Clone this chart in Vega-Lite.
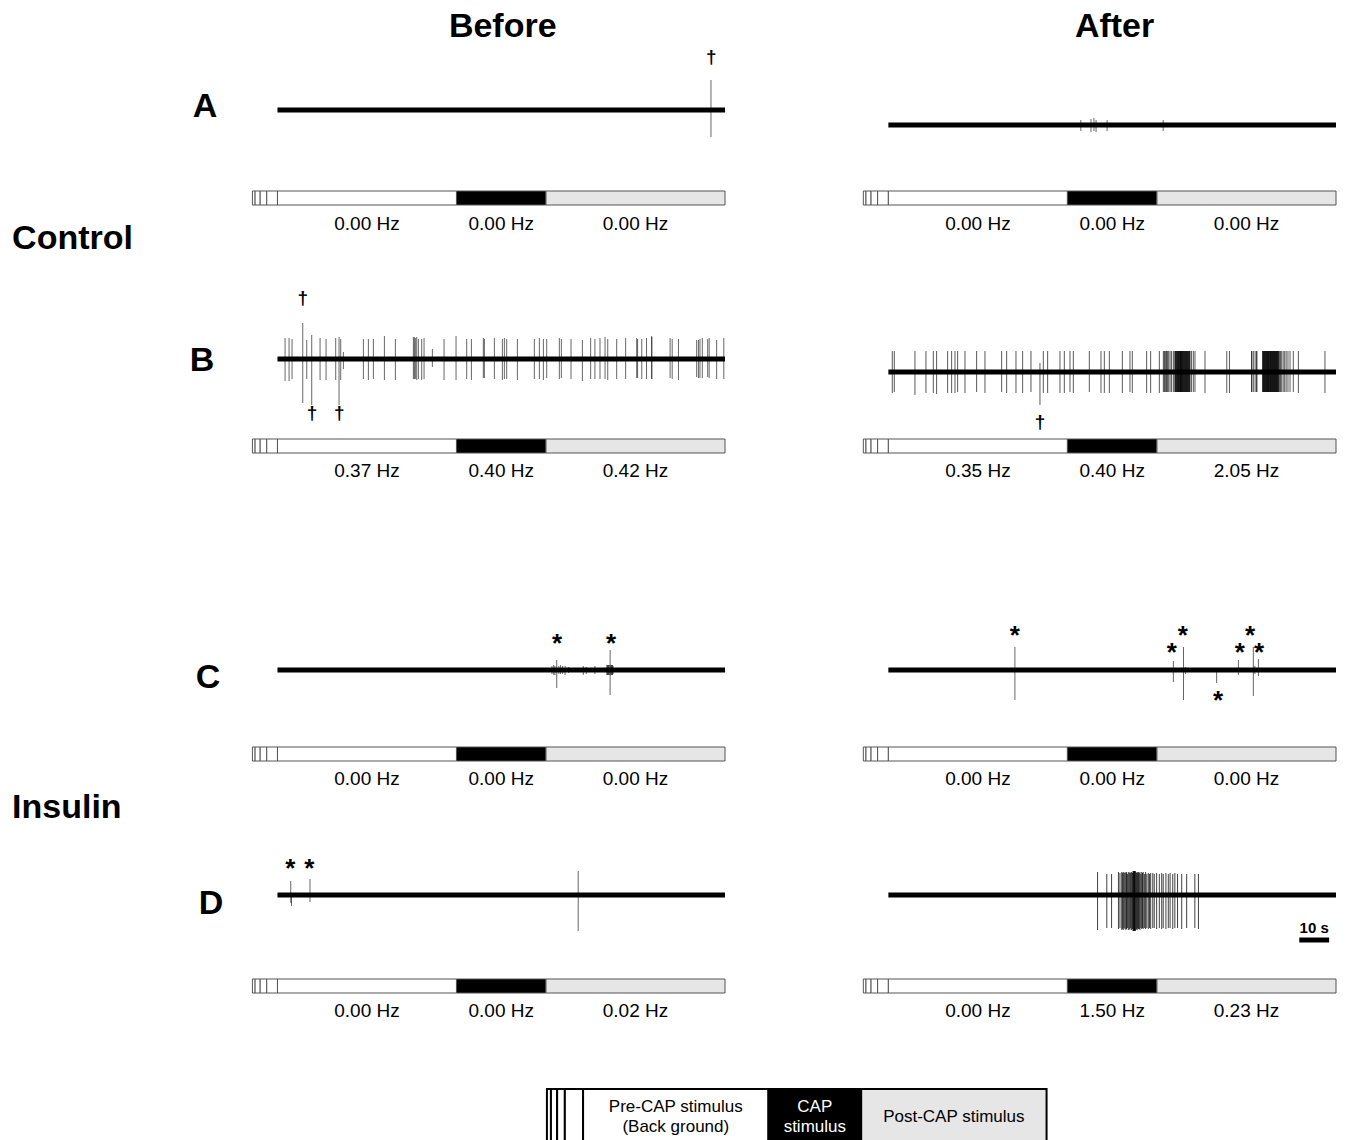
{
"$schema":"https://vega.github.io/schema/vega-lite/v6.json",
"padding":0,
"autosize":{"type":"pad"},
"background":"white",
"spacing":0,
"config":{"view":{"stroke":null},"font":"Liberation Sans","text":{"font":"Liberation Sans"}},
"datasets":{
"stim":[{"phase":"lead","t0":-8.4,"t1":-7.5},{"phase":"lead","t0":-7.5,"t1":-5.8},{"phase":"lead","t0":-5.8,"t1":-3.6},{"phase":"lead","t0":-3.6,"t1":0},{"phase":"pre","t0":0,"t1":60},{"phase":"cap","t0":60,"t1":90},{"phase":"post","t0":90,"t1":150}],
"legendStim":[{"phase":"lead","t0":-11.7,"t1":-10.4},{"phase":"lead","t0":-10.4,"t1":-8.4},{"phase":"lead","t0":-8.4,"t1":-5.9},{"phase":"lead","t0":-5.9,"t1":0},{"phase":"pre","t0":0,"t1":60},{"phase":"cap","t0":60,"t1":90},{"phase":"post","t0":90,"t1":150}],
"legendText":[{"phase":"pre","mid":30,"label":"Pre-CAP stimulus\n(Back ground)"},{"phase":"cap","mid":75,"label":"CAP\nstimulus"},{"phase":"post","mid":120,"label":"Post-CAP stimulus"}],
"rates":[
{"p":"A-Before","mid":30,"rate":"0.00 Hz"},{"p":"A-Before","mid":75,"rate":"0.00 Hz"},{"p":"A-Before","mid":120,"rate":"0.00 Hz"},
{"p":"A-After","mid":30,"rate":"0.00 Hz"},{"p":"A-After","mid":75,"rate":"0.00 Hz"},{"p":"A-After","mid":120,"rate":"0.00 Hz"},
{"p":"B-Before","mid":30,"rate":"0.37 Hz"},{"p":"B-Before","mid":75,"rate":"0.40 Hz"},{"p":"B-Before","mid":120,"rate":"0.42 Hz"},
{"p":"B-After","mid":30,"rate":"0.35 Hz"},{"p":"B-After","mid":75,"rate":"0.40 Hz"},{"p":"B-After","mid":120,"rate":"2.05 Hz"},
{"p":"C-Before","mid":30,"rate":"0.00 Hz"},{"p":"C-Before","mid":75,"rate":"0.00 Hz"},{"p":"C-Before","mid":120,"rate":"0.00 Hz"},
{"p":"C-After","mid":30,"rate":"0.00 Hz"},{"p":"C-After","mid":75,"rate":"0.00 Hz"},{"p":"C-After","mid":120,"rate":"0.00 Hz"},
{"p":"D-Before","mid":30,"rate":"0.00 Hz"},{"p":"D-Before","mid":75,"rate":"0.00 Hz"},{"p":"D-Before","mid":120,"rate":"0.02 Hz"},
{"p":"D-After","mid":30,"rate":"0.00 Hz"},{"p":"D-After","mid":75,"rate":"1.50 Hz"},{"p":"D-After","mid":120,"rate":"0.23 Hz"}],
"traces":[{"p":"A-Before","t0":0,"t1":150,"base":0},{"p":"A-After","t0":0,"t1":150,"base":-15},{"p":"B-Before","t0":0,"t1":150,"base":0},{"p":"B-After","t0":0,"t1":150,"base":-13},{"p":"C-Before","t0":0,"t1":150,"base":0},{"p":"C-After","t0":0,"t1":150,"base":0},{"p":"D-Before","t0":0,"t1":150,"base":0},{"p":"D-After","t0":0,"t1":150,"base":0}],
"spikes":[
{"p":"A-Before","t":145.3,"hi":30,"lo":-27},
{"p":"A-After","t":64.5,"hi":-10,"lo":-21},{"p":"A-After","t":67.9,"hi":-9,"lo":-22},{"p":"A-After","t":68.9,"hi":-8,"lo":-21},{"p":"A-After","t":69.6,"hi":-10,"lo":-22},{"p":"A-After","t":73.3,"hi":-10,"lo":-21},{"p":"A-After","t":92.1,"hi":-10,"lo":-21},
{"p":"B-Before","t":2.55,"hi":21,"lo":-22},{"p":"B-Before","t":3.89,"hi":21,"lo":-22},{"p":"B-Before","t":4.89,"hi":20,"lo":-20},{"p":"B-Before","t":8.47,"hi":36,"lo":-44},{"p":"B-Before","t":9.81,"hi":19,"lo":-20},{"p":"B-Before","t":11.48,"hi":24,"lo":-46},{"p":"B-Before","t":14.28,"hi":21,"lo":-21},{"p":"B-Before","t":16.29,"hi":20,"lo":-21},{"p":"B-Before","t":19.52,"hi":21,"lo":-21},{"p":"B-Before","t":20.64,"hi":22,"lo":-46},{"p":"B-Before","t":21.2,"hi":20,"lo":-21},{"p":"B-Before","t":22.1,"hi":7,"lo":-10},{"p":"B-Before","t":28.8,"hi":20,"lo":-20},{"p":"B-Before","t":30.47,"hi":20,"lo":-21},{"p":"B-Before","t":32.15,"hi":20,"lo":-20},{"p":"B-Before","t":35.84,"hi":23,"lo":-21},{"p":"B-Before","t":39.52,"hi":20,"lo":-21},{"p":"B-Before","t":45.55,"hi":22,"lo":-20},{"p":"B-Before","t":45.89,"hi":22,"lo":-20},{"p":"B-Before","t":46.22,"hi":21,"lo":-20},{"p":"B-Before","t":46.67,"hi":22,"lo":-21},{"p":"B-Before","t":47.23,"hi":20,"lo":-20},{"p":"B-Before","t":48.34,"hi":20,"lo":-21},{"p":"B-Before","t":49.13,"hi":21,"lo":-20},{"p":"B-Before","t":51.92,"hi":10,"lo":-8},{"p":"B-Before","t":55.83,"hi":20,"lo":-21},{"p":"B-Before","t":59.85,"hi":23,"lo":-21},{"p":"B-Before","t":63.43,"hi":20,"lo":-20},{"p":"B-Before","t":65.0,"hi":20,"lo":-21},{"p":"B-Before","t":69.0,"hi":21,"lo":-19},{"p":"B-Before","t":69.35,"hi":20,"lo":-19},{"p":"B-Before","t":72.7,"hi":21,"lo":-20},{"p":"B-Before","t":75.38,"hi":20,"lo":-21},{"p":"B-Before","t":76.05,"hi":21,"lo":-20},{"p":"B-Before","t":76.83,"hi":20,"lo":-20},{"p":"B-Before","t":80.41,"hi":20,"lo":-21},{"p":"B-Before","t":86.1,"hi":20,"lo":-20},{"p":"B-Before","t":87.78,"hi":21,"lo":-20},{"p":"B-Before","t":89.12,"hi":20,"lo":-21},{"p":"B-Before","t":90.24,"hi":20,"lo":-19},{"p":"B-Before","t":94.48,"hi":21,"lo":-20},{"p":"B-Before","t":95.15,"hi":20,"lo":-19},{"p":"B-Before","t":98.39,"hi":20,"lo":-20},{"p":"B-Before","t":102.2,"hi":19,"lo":-22},{"p":"B-Before","t":104.97,"hi":21,"lo":-20},{"p":"B-Before","t":106.4,"hi":20,"lo":-20},{"p":"B-Before","t":108.1,"hi":21,"lo":-20},{"p":"B-Before","t":109.8,"hi":22,"lo":-20},{"p":"B-Before","t":110.7,"hi":20,"lo":-21},{"p":"B-Before","t":113.7,"hi":20,"lo":-20},{"p":"B-Before","t":116.7,"hi":21,"lo":-20},{"p":"B-Before","t":120.4,"hi":21,"lo":-19},{"p":"B-Before","t":120.7,"hi":20,"lo":-19},{"p":"B-Before","t":122.1,"hi":20,"lo":-20},{"p":"B-Before","t":123.7,"hi":21,"lo":-20},{"p":"B-Before","t":125.4,"hi":23,"lo":-20},{"p":"B-Before","t":125.5,"hi":22,"lo":-20},{"p":"B-Before","t":131.6,"hi":21,"lo":-19},{"p":"B-Before","t":132.3,"hi":20,"lo":-20},{"p":"B-Before","t":134.4,"hi":20,"lo":-21},{"p":"B-Before","t":140.5,"hi":19,"lo":-18},{"p":"B-Before","t":141.1,"hi":19,"lo":-19},{"p":"B-Before","t":141.6,"hi":20,"lo":-19},{"p":"B-Before","t":142.4,"hi":21,"lo":-19},{"p":"B-Before","t":144.2,"hi":20,"lo":-18},{"p":"B-Before","t":144.7,"hi":21,"lo":-19},{"p":"B-Before","t":147.2,"hi":19,"lo":-20},{"p":"B-Before","t":149.6,"hi":21,"lo":-20},
{"p":"B-After","t":1.32,"hi":8,"lo":-34},{"p":"B-After","t":1.99,"hi":8,"lo":-33},{"p":"B-After","t":8.91,"hi":8,"lo":-36},{"p":"B-After","t":12.6,"hi":8,"lo":-34},{"p":"B-After","t":15.06,"hi":8,"lo":-34},{"p":"B-After","t":16.17,"hi":8,"lo":-35},{"p":"B-After","t":19.86,"hi":8,"lo":-34},{"p":"B-After","t":21.2,"hi":8,"lo":-34},{"p":"B-After","t":22.32,"hi":8,"lo":-34},{"p":"B-After","t":23.21,"hi":8,"lo":-33},{"p":"B-After","t":25.67,"hi":8,"lo":-34},{"p":"B-After","t":29.58,"hi":8,"lo":-33},{"p":"B-After","t":32.37,"hi":8,"lo":-34},{"p":"B-After","t":37.96,"hi":8,"lo":-33},{"p":"B-After","t":39.63,"hi":8,"lo":-34},{"p":"B-After","t":42.76,"hi":8,"lo":-34},{"p":"B-After","t":45.0,"hi":8,"lo":-34},{"p":"B-After","t":47.79,"hi":8,"lo":-33},{"p":"B-After","t":50.8,"hi":-4,"lo":-46},{"p":"B-After","t":51.92,"hi":8,"lo":-34},{"p":"B-After","t":53.37,"hi":8,"lo":-34},{"p":"B-After","t":57.5,"hi":8,"lo":-34},{"p":"B-After","t":58.96,"hi":8,"lo":-34},{"p":"B-After","t":60.86,"hi":8,"lo":-33},{"p":"B-After","t":61.98,"hi":8,"lo":-34},{"p":"B-After","t":67.34,"hi":8,"lo":-33},{"p":"B-After","t":71.25,"hi":8,"lo":-34},{"p":"B-After","t":72.37,"hi":8,"lo":-34},{"p":"B-After","t":74.05,"hi":8,"lo":-34},{"p":"B-After","t":78.4,"hi":8,"lo":-34},{"p":"B-After","t":80.96,"hi":8,"lo":-33},{"p":"B-After","t":81.75,"hi":8,"lo":-34},{"p":"B-After","t":86.55,"hi":8,"lo":-34},{"p":"B-After","t":87.89,"hi":8,"lo":-34},{"p":"B-After","t":90.8,"hi":8,"lo":-34},
{"p":"B-After","t":92.14,"hi":8,"lo":-33},{"p":"B-After","t":92.45,"hi":8,"lo":-33},{"p":"B-After","t":92.7,"hi":8,"lo":-33},{"p":"B-After","t":93.0,"hi":8,"lo":-33},{"p":"B-After","t":93.25,"hi":8,"lo":-33},{"p":"B-After","t":93.5,"hi":8,"lo":-33},{"p":"B-After","t":93.92,"hi":8,"lo":-33},{"p":"B-After","t":94.4,"hi":8,"lo":-33},{"p":"B-After","t":94.9,"hi":8,"lo":-33},{"p":"B-After","t":95.5,"hi":8,"lo":-33},{"p":"B-After","t":96.0,"hi":8,"lo":-33},{"p":"B-After","t":96.12,"hi":8,"lo":-33},{"p":"B-After","t":96.25,"hi":8,"lo":-33},{"p":"B-After","t":96.4,"hi":8,"lo":-33},{"p":"B-After","t":96.55,"hi":8,"lo":-33},{"p":"B-After","t":96.7,"hi":8,"lo":-33},{"p":"B-After","t":96.85,"hi":8,"lo":-33},{"p":"B-After","t":96.95,"hi":8,"lo":-33},{"p":"B-After","t":97.1,"hi":8,"lo":-33},{"p":"B-After","t":97.2,"hi":8,"lo":-33},{"p":"B-After","t":97.3,"hi":8,"lo":-33},{"p":"B-After","t":97.45,"hi":8,"lo":-33},{"p":"B-After","t":97.6,"hi":8,"lo":-33},{"p":"B-After","t":97.7,"hi":8,"lo":-33},{"p":"B-After","t":97.8,"hi":8,"lo":-33},{"p":"B-After","t":97.9,"hi":8,"lo":-33},{"p":"B-After","t":98.0,"hi":8,"lo":-33},{"p":"B-After","t":98.1,"hi":8,"lo":-33},{"p":"B-After","t":98.2,"hi":8,"lo":-33},{"p":"B-After","t":98.3,"hi":8,"lo":-33},{"p":"B-After","t":98.45,"hi":8,"lo":-33},{"p":"B-After","t":98.55,"hi":8,"lo":-33},{"p":"B-After","t":98.7,"hi":8,"lo":-33},{"p":"B-After","t":98.8,"hi":8,"lo":-33},{"p":"B-After","t":98.95,"hi":8,"lo":-33},{"p":"B-After","t":99.1,"hi":8,"lo":-33},{"p":"B-After","t":99.2,"hi":8,"lo":-33},{"p":"B-After","t":99.35,"hi":8,"lo":-33},{"p":"B-After","t":99.5,"hi":8,"lo":-33},{"p":"B-After","t":99.6,"hi":8,"lo":-33},{"p":"B-After","t":99.75,"hi":8,"lo":-33},{"p":"B-After","t":99.9,"hi":8,"lo":-33},{"p":"B-After","t":100.0,"hi":8,"lo":-33},{"p":"B-After","t":100.15,"hi":8,"lo":-33},{"p":"B-After","t":100.3,"hi":8,"lo":-33},{"p":"B-After","t":100.4,"hi":8,"lo":-33},{"p":"B-After","t":100.55,"hi":8,"lo":-33},{"p":"B-After","t":100.7,"hi":8,"lo":-33},{"p":"B-After","t":100.8,"hi":8,"lo":-33},{"p":"B-After","t":100.95,"hi":8,"lo":-33},{"p":"B-After","t":101.1,"hi":8,"lo":-33},{"p":"B-After","t":101.6,"hi":8,"lo":-33},{"p":"B-After","t":102.2,"hi":8,"lo":-33},{"p":"B-After","t":102.75,"hi":8,"lo":-33},
{"p":"B-After","t":106.1,"hi":8,"lo":-34},{"p":"B-After","t":113.4,"hi":8,"lo":-34},{"p":"B-After","t":114.3,"hi":8,"lo":-34},
{"p":"B-After","t":121.7,"hi":8,"lo":-33},{"p":"B-After","t":121.8,"hi":8,"lo":-33},{"p":"B-After","t":122.3,"hi":8,"lo":-33},{"p":"B-After","t":122.9,"hi":8,"lo":-33},{"p":"B-After","t":123.4,"hi":8,"lo":-33},{"p":"B-After","t":123.5,"hi":8,"lo":-33},{"p":"B-After","t":125.4,"hi":8,"lo":-33},{"p":"B-After","t":125.5,"hi":8,"lo":-33},{"p":"B-After","t":125.65,"hi":8,"lo":-33},{"p":"B-After","t":125.75,"hi":8,"lo":-33},{"p":"B-After","t":125.9,"hi":8,"lo":-33},{"p":"B-After","t":126.0,"hi":8,"lo":-33},{"p":"B-After","t":126.1,"hi":8,"lo":-33},{"p":"B-After","t":126.25,"hi":8,"lo":-33},{"p":"B-After","t":126.4,"hi":8,"lo":-33},{"p":"B-After","t":126.5,"hi":8,"lo":-33},{"p":"B-After","t":126.6,"hi":8,"lo":-33},{"p":"B-After","t":126.75,"hi":8,"lo":-33},{"p":"B-After","t":126.85,"hi":8,"lo":-33},{"p":"B-After","t":126.95,"hi":8,"lo":-33},{"p":"B-After","t":127.05,"hi":8,"lo":-33},{"p":"B-After","t":127.2,"hi":8,"lo":-33},{"p":"B-After","t":127.3,"hi":8,"lo":-33},{"p":"B-After","t":127.4,"hi":8,"lo":-33},{"p":"B-After","t":127.5,"hi":8,"lo":-33},{"p":"B-After","t":127.65,"hi":8,"lo":-33},{"p":"B-After","t":127.8,"hi":8,"lo":-33},{"p":"B-After","t":127.9,"hi":8,"lo":-33},{"p":"B-After","t":128.0,"hi":8,"lo":-33},{"p":"B-After","t":128.1,"hi":8,"lo":-33},{"p":"B-After","t":128.25,"hi":8,"lo":-33},{"p":"B-After","t":128.35,"hi":8,"lo":-33},{"p":"B-After","t":128.5,"hi":8,"lo":-33},{"p":"B-After","t":128.6,"hi":8,"lo":-33},{"p":"B-After","t":128.7,"hi":8,"lo":-33},{"p":"B-After","t":128.85,"hi":8,"lo":-33},{"p":"B-After","t":128.95,"hi":8,"lo":-33},{"p":"B-After","t":129.1,"hi":8,"lo":-33},{"p":"B-After","t":129.2,"hi":8,"lo":-33},{"p":"B-After","t":129.3,"hi":8,"lo":-33},{"p":"B-After","t":129.4,"hi":8,"lo":-33},{"p":"B-After","t":129.55,"hi":8,"lo":-33},{"p":"B-After","t":129.7,"hi":8,"lo":-33},{"p":"B-After","t":129.8,"hi":8,"lo":-33},{"p":"B-After","t":129.9,"hi":8,"lo":-33},{"p":"B-After","t":130.05,"hi":8,"lo":-33},{"p":"B-After","t":130.15,"hi":8,"lo":-33},{"p":"B-After","t":130.3,"hi":8,"lo":-33},{"p":"B-After","t":130.4,"hi":8,"lo":-33},{"p":"B-After","t":130.55,"hi":8,"lo":-33},{"p":"B-After","t":130.7,"hi":8,"lo":-33},{"p":"B-After","t":130.85,"hi":8,"lo":-33},{"p":"B-After","t":131.0,"hi":8,"lo":-33},{"p":"B-After","t":131.4,"hi":8,"lo":-33},{"p":"B-After","t":131.8,"hi":8,"lo":-33},{"p":"B-After","t":132.3,"hi":8,"lo":-33},{"p":"B-After","t":132.8,"hi":8,"lo":-33},{"p":"B-After","t":133.3,"hi":8,"lo":-33},{"p":"B-After","t":133.9,"hi":8,"lo":-33},{"p":"B-After","t":134.6,"hi":8,"lo":-33},{"p":"B-After","t":135.7,"hi":8,"lo":-33},{"p":"B-After","t":137.4,"hi":8,"lo":-34},{"p":"B-After","t":146.3,"hi":8,"lo":-34},
{"p":"C-Before","t":92.0,"hi":4,"lo":-4},{"p":"C-Before","t":92.6,"hi":5,"lo":-5},{"p":"C-Before","t":93.0,"hi":4,"lo":-5},{"p":"C-Before","t":93.6,"hi":10,"lo":-18},{"p":"C-Before","t":94.3,"hi":4,"lo":-4},{"p":"C-Before","t":94.9,"hi":5,"lo":-4},{"p":"C-Before","t":95.6,"hi":4,"lo":-4},{"p":"C-Before","t":96.4,"hi":4,"lo":-5},{"p":"C-Before","t":97.6,"hi":3,"lo":-3},{"p":"C-Before","t":102.5,"hi":4,"lo":-5},{"p":"C-Before","t":103.5,"hi":3,"lo":-4},{"p":"C-Before","t":106.4,"hi":4,"lo":-4},{"p":"C-Before","t":110.4,"hi":5,"lo":-5},{"p":"C-Before","t":110.6,"hi":5,"lo":-5},{"p":"C-Before","t":110.8,"hi":5,"lo":-5},{"p":"C-Before","t":111.0,"hi":5,"lo":-5},{"p":"C-Before","t":111.2,"hi":5,"lo":-5},{"p":"C-Before","t":111.5,"hi":20,"lo":-25},{"p":"C-Before","t":111.7,"hi":5,"lo":-5},{"p":"C-Before","t":111.9,"hi":5,"lo":-5},{"p":"C-Before","t":112.1,"hi":5,"lo":-5},{"p":"C-Before","t":112.3,"hi":5,"lo":-5},{"p":"C-Before","t":112.5,"hi":4,"lo":-4},
{"p":"C-After","t":42.4,"hi":23,"lo":-30},{"p":"C-After","t":95.5,"hi":9,"lo":-12},{"p":"C-After","t":98.9,"hi":23,"lo":-30},{"p":"C-After","t":99.6,"hi":3,"lo":-4},{"p":"C-After","t":110.0,"hi":2,"lo":-13},{"p":"C-After","t":117.3,"hi":10,"lo":-5},{"p":"C-After","t":122.3,"hi":23,"lo":-26},{"p":"C-After","t":122.8,"hi":4,"lo":-4},{"p":"C-After","t":124.0,"hi":11,"lo":-6},
{"p":"D-Before","t":4.45,"hi":14,"lo":-8},{"p":"D-Before","t":4.7,"hi":-2,"lo":-11},{"p":"D-Before","t":10.9,"hi":16,"lo":-7},{"p":"D-Before","t":100.8,"hi":24,"lo":-36},
{"p":"D-After","t":70.1,"hi":23,"lo":-35},{"p":"D-After","t":73.2,"hi":21,"lo":-33},{"p":"D-After","t":74.8,"hi":21,"lo":-33},{"p":"D-After","t":77.1,"hi":23,"lo":-34},{"p":"D-After","t":77.6,"hi":22,"lo":-33},{"p":"D-After","t":78.2,"hi":23,"lo":-35},{"p":"D-After","t":78.5,"hi":22,"lo":-34},{"p":"D-After","t":78.7,"hi":23,"lo":-35},{"p":"D-After","t":79.0,"hi":22,"lo":-33},{"p":"D-After","t":79.3,"hi":23,"lo":-34},{"p":"D-After","t":79.6,"hi":22,"lo":-35},{"p":"D-After","t":79.8,"hi":23,"lo":-34},{"p":"D-After","t":80.1,"hi":21,"lo":-33},{"p":"D-After","t":80.4,"hi":23,"lo":-35},{"p":"D-After","t":80.7,"hi":22,"lo":-34},{"p":"D-After","t":80.97,"hi":23,"lo":-35},{"p":"D-After","t":81.2,"hi":22,"lo":-33},{"p":"D-After","t":81.5,"hi":23,"lo":-35},{"p":"D-After","t":81.8,"hi":22,"lo":-34},{"p":"D-After","t":82.0,"hi":24,"lo":-36},{"p":"D-After","t":82.1,"hi":24,"lo":-36},{"p":"D-After","t":82.25,"hi":24,"lo":-36},{"p":"D-After","t":82.4,"hi":23,"lo":-35},{"p":"D-After","t":82.5,"hi":24,"lo":-36},{"p":"D-After","t":82.6,"hi":24,"lo":-36},{"p":"D-After","t":82.75,"hi":24,"lo":-36},{"p":"D-After","t":82.97,"hi":23,"lo":-35},{"p":"D-After","t":83.2,"hi":22,"lo":-34},{"p":"D-After","t":83.4,"hi":23,"lo":-35},{"p":"D-After","t":83.6,"hi":22,"lo":-33},{"p":"D-After","t":83.8,"hi":23,"lo":-34},{"p":"D-After","t":84.05,"hi":22,"lo":-34},{"p":"D-After","t":84.3,"hi":23,"lo":-35},{"p":"D-After","t":84.6,"hi":21,"lo":-33},{"p":"D-After","t":84.9,"hi":23,"lo":-34},{"p":"D-After","t":85.15,"hi":22,"lo":-33},{"p":"D-After","t":85.4,"hi":23,"lo":-34},{"p":"D-After","t":85.8,"hi":21,"lo":-33},{"p":"D-After","t":86.2,"hi":23,"lo":-34},{"p":"D-After","t":86.6,"hi":21,"lo":-33},{"p":"D-After","t":87.1,"hi":22,"lo":-34},{"p":"D-After","t":87.5,"hi":21,"lo":-33},{"p":"D-After","t":87.9,"hi":22,"lo":-34},{"p":"D-After","t":88.6,"hi":22,"lo":-33},{"p":"D-After","t":89.1,"hi":21,"lo":-33},{"p":"D-After","t":89.9,"hi":22,"lo":-34},{"p":"D-After","t":90.8,"hi":21,"lo":-33},{"p":"D-After","t":91.6,"hi":22,"lo":-34},{"p":"D-After","t":92.1,"hi":21,"lo":-33},{"p":"D-After","t":93.0,"hi":22,"lo":-34},{"p":"D-After","t":93.8,"hi":21,"lo":-33},{"p":"D-After","t":94.4,"hi":22,"lo":-33},{"p":"D-After","t":95.3,"hi":21,"lo":-34},{"p":"D-After","t":96.0,"hi":22,"lo":-33},{"p":"D-After","t":96.9,"hi":21,"lo":-33},{"p":"D-After","t":98.3,"hi":21,"lo":-34},{"p":"D-After","t":99.96,"hi":21,"lo":-33},{"p":"D-After","t":102.7,"hi":21,"lo":-33},{"p":"D-After","t":103.9,"hi":21,"lo":-34}],
"marks":[
{"p":"A-Before","t":145.4,"y":53,"sym":"†"},
{"p":"B-Before","t":8.5,"y":61,"sym":"†"},{"p":"B-Before","t":11.6,"y":-54,"sym":"†"},{"p":"B-Before","t":20.7,"y":-54,"sym":"†"},
{"p":"B-After","t":50.8,"y":-63,"sym":"†"},
{"p":"C-Before","t":93.7,"y":33,"sym":"*"},{"p":"C-Before","t":111.8,"y":33,"sym":"*"},
{"p":"C-After","t":42.4,"y":41,"sym":"*"},{"p":"C-After","t":95.0,"y":24,"sym":"*"},{"p":"C-After","t":98.7,"y":41,"sym":"*"},{"p":"C-After","t":110.5,"y":-24,"sym":"*"},{"p":"C-After","t":117.8,"y":24,"sym":"*"},{"p":"C-After","t":121.2,"y":41,"sym":"*"},{"p":"C-After","t":124.2,"y":24,"sym":"*"},
{"p":"D-Before","t":4.3,"y":33,"sym":"*"},{"p":"D-Before","t":10.7,"y":33,"sym":"*"}],
"labels":[
{"p":"A-Before","t":75.5,"y":85,"label":"Before"},
{"p":"A-After","t":75.8,"y":85,"label":"After"},
{"p":"A-Before","t":-24.3,"y":5,"label":"A"},
{"p":"A-Before","t":-68.7,"y":-127,"label":"Control"},
{"p":"B-Before","t":-25.3,"y":0,"label":"B"},
{"p":"C-Before","t":-23.3,"y":-6,"label":"C"},
{"p":"C-Before","t":-70.6,"y":-136,"label":"Insulin"},
{"p":"D-Before","t":-22.3,"y":-7,"label":"D"}],
"scalebar":[{"t0":137.7,"t1":147.7,"mid":142.7,"label":"10 s"}]
},
"vconcat":[
{"hconcat":[
{"width":725,"height":265,"layer":[
{"data":{"name":"stim"},"mark":{"type":"bar","stroke":"#555555","strokeWidth":1},"encoding":{"x":{"field":"t0","type":"quantitative","scale":{"domain":[-93,150],"nice":false,"zero":false},"axis":null},"x2":{"field":"t1"},"y":{"datum":-81,"type":"quantitative","scale":{"domain":[-155,110],"nice":false,"zero":false},"axis":null},"y2":{"datum":-95},"fill":{"field":"phase","type":"nominal","scale":{"domain":["lead","pre","cap","post"],"range":["#ffffff","#ffffff","#000000","#e6e6e6"]},"legend":null}}},
{"data":{"name":"rates"},"transform":[{"filter":"datum.p==='A-Before'"}],"mark":{"type":"text","fontSize":19,"dy":1},"encoding":{"x":{"field":"mid","type":"quantitative","scale":{"domain":[-93,150],"nice":false,"zero":false},"axis":null},"y":{"datum":-113,"type":"quantitative","scale":{"domain":[-155,110],"nice":false,"zero":false},"axis":null},"text":{"field":"rate"}}},
{"data":{"name":"traces"},"transform":[{"filter":"datum.p==='A-Before'"}],"mark":{"type":"rule","strokeWidth":5,"color":"#000000"},"encoding":{"x":{"field":"t0","type":"quantitative","scale":{"domain":[-93,150],"nice":false,"zero":false},"axis":null},"x2":{"field":"t1"},"y":{"field":"base","type":"quantitative","scale":{"domain":[-155,110],"nice":false,"zero":false},"axis":null}}},
{"data":{"name":"spikes"},"transform":[{"filter":"datum.p==='A-Before'"}],"mark":{"type":"rule","strokeWidth":1,"color":"#000000","opacity":0.6},"encoding":{"x":{"field":"t","type":"quantitative","scale":{"domain":[-93,150],"nice":false,"zero":false},"axis":null},"y":{"field":"hi","type":"quantitative","scale":{"domain":[-155,110],"nice":false,"zero":false},"axis":null},"y2":{"field":"lo"}}},
{"data":{"name":"marks"},"transform":[{"filter":"datum.p==='A-Before'"}],"mark":{"type":"text","fontSize":19,"fontWeight":"bold"},"encoding":{"x":{"field":"t","type":"quantitative","scale":{"domain":[-93,150],"nice":false,"zero":false},"axis":null},"y":{"field":"y","type":"quantitative","scale":{"domain":[-155,110],"nice":false,"zero":false},"axis":null},"text":{"field":"sym"}}},
{"data":{"name":"labels"},"transform":[{"filter":"datum.p==='A-Before'"}],"mark":{"type":"text","fontSize":34,"fontWeight":"bold","dy":2},"encoding":{"x":{"field":"t","type":"quantitative","scale":{"domain":[-93,150],"nice":false,"zero":false},"axis":null},"y":{"field":"y","type":"quantitative","scale":{"domain":[-155,110],"nice":false,"zero":false},"axis":null},"text":{"field":"label"}}}
]},
{"width":473,"height":265,"layer":[
{"data":{"name":"stim"},"mark":{"type":"bar","stroke":"#555555","strokeWidth":1},"encoding":{"x":{"field":"t0","type":"quantitative","scale":{"domain":[-8.5,150],"nice":false,"zero":false},"axis":null},"x2":{"field":"t1"},"y":{"datum":-81,"type":"quantitative","scale":{"domain":[-155,110],"nice":false,"zero":false},"axis":null},"y2":{"datum":-95},"fill":{"field":"phase","type":"nominal","scale":{"domain":["lead","pre","cap","post"],"range":["#ffffff","#ffffff","#000000","#e6e6e6"]},"legend":null}}},
{"data":{"name":"rates"},"transform":[{"filter":"datum.p==='A-After'"}],"mark":{"type":"text","fontSize":19,"dy":1},"encoding":{"x":{"field":"mid","type":"quantitative","scale":{"domain":[-8.5,150],"nice":false,"zero":false},"axis":null},"y":{"datum":-113,"type":"quantitative","scale":{"domain":[-155,110],"nice":false,"zero":false},"axis":null},"text":{"field":"rate"}}},
{"data":{"name":"traces"},"transform":[{"filter":"datum.p==='A-After'"}],"mark":{"type":"rule","strokeWidth":5,"color":"#000000"},"encoding":{"x":{"field":"t0","type":"quantitative","scale":{"domain":[-8.5,150],"nice":false,"zero":false},"axis":null},"x2":{"field":"t1"},"y":{"field":"base","type":"quantitative","scale":{"domain":[-155,110],"nice":false,"zero":false},"axis":null}}},
{"data":{"name":"spikes"},"transform":[{"filter":"datum.p==='A-After'"}],"mark":{"type":"rule","strokeWidth":1,"color":"#000000","opacity":0.6},"encoding":{"x":{"field":"t","type":"quantitative","scale":{"domain":[-8.5,150],"nice":false,"zero":false},"axis":null},"y":{"field":"hi","type":"quantitative","scale":{"domain":[-155,110],"nice":false,"zero":false},"axis":null},"y2":{"field":"lo"}}},
{"data":{"name":"labels"},"transform":[{"filter":"datum.p==='A-After'"}],"mark":{"type":"text","fontSize":34,"fontWeight":"bold","dy":2},"encoding":{"x":{"field":"t","type":"quantitative","scale":{"domain":[-8.5,150],"nice":false,"zero":false},"axis":null},"y":{"field":"y","type":"quantitative","scale":{"domain":[-155,110],"nice":false,"zero":false},"axis":null},"text":{"field":"label"}}}
]}
],"spacing":138,"bounds":"flush"},
{"hconcat":[
{"width":725,"height":255,"layer":[
{"data":{"name":"stim"},"mark":{"type":"bar","stroke":"#555555","strokeWidth":1},"encoding":{"x":{"field":"t0","type":"quantitative","scale":{"domain":[-93,150],"nice":false,"zero":false},"axis":null},"x2":{"field":"t1"},"y":{"datum":-80,"type":"quantitative","scale":{"domain":[-161,94],"nice":false,"zero":false},"axis":null},"y2":{"datum":-94},"fill":{"field":"phase","type":"nominal","scale":{"domain":["lead","pre","cap","post"],"range":["#ffffff","#ffffff","#000000","#e6e6e6"]},"legend":null}}},
{"data":{"name":"rates"},"transform":[{"filter":"datum.p==='B-Before'"}],"mark":{"type":"text","fontSize":19,"dy":1},"encoding":{"x":{"field":"mid","type":"quantitative","scale":{"domain":[-93,150],"nice":false,"zero":false},"axis":null},"y":{"datum":-111,"type":"quantitative","scale":{"domain":[-161,94],"nice":false,"zero":false},"axis":null},"text":{"field":"rate"}}},
{"data":{"name":"traces"},"transform":[{"filter":"datum.p==='B-Before'"}],"mark":{"type":"rule","strokeWidth":5,"color":"#000000"},"encoding":{"x":{"field":"t0","type":"quantitative","scale":{"domain":[-93,150],"nice":false,"zero":false},"axis":null},"x2":{"field":"t1"},"y":{"field":"base","type":"quantitative","scale":{"domain":[-161,94],"nice":false,"zero":false},"axis":null}}},
{"data":{"name":"spikes"},"transform":[{"filter":"datum.p==='B-Before'"}],"mark":{"type":"rule","strokeWidth":1,"color":"#000000","opacity":0.6},"encoding":{"x":{"field":"t","type":"quantitative","scale":{"domain":[-93,150],"nice":false,"zero":false},"axis":null},"y":{"field":"hi","type":"quantitative","scale":{"domain":[-161,94],"nice":false,"zero":false},"axis":null},"y2":{"field":"lo"}}},
{"data":{"name":"marks"},"transform":[{"filter":"datum.p==='B-Before'"}],"mark":{"type":"text","fontSize":19,"fontWeight":"bold"},"encoding":{"x":{"field":"t","type":"quantitative","scale":{"domain":[-93,150],"nice":false,"zero":false},"axis":null},"y":{"field":"y","type":"quantitative","scale":{"domain":[-161,94],"nice":false,"zero":false},"axis":null},"text":{"field":"sym"}}},
{"data":{"name":"labels"},"transform":[{"filter":"datum.p==='B-Before'"}],"mark":{"type":"text","fontSize":34,"fontWeight":"bold","dy":2},"encoding":{"x":{"field":"t","type":"quantitative","scale":{"domain":[-93,150],"nice":false,"zero":false},"axis":null},"y":{"field":"y","type":"quantitative","scale":{"domain":[-161,94],"nice":false,"zero":false},"axis":null},"text":{"field":"label"}}}
]},
{"width":473,"height":255,"layer":[
{"data":{"name":"stim"},"mark":{"type":"bar","stroke":"#555555","strokeWidth":1},"encoding":{"x":{"field":"t0","type":"quantitative","scale":{"domain":[-8.5,150],"nice":false,"zero":false},"axis":null},"x2":{"field":"t1"},"y":{"datum":-80,"type":"quantitative","scale":{"domain":[-161,94],"nice":false,"zero":false},"axis":null},"y2":{"datum":-94},"fill":{"field":"phase","type":"nominal","scale":{"domain":["lead","pre","cap","post"],"range":["#ffffff","#ffffff","#000000","#e6e6e6"]},"legend":null}}},
{"data":{"name":"rates"},"transform":[{"filter":"datum.p==='B-After'"}],"mark":{"type":"text","fontSize":19,"dy":1},"encoding":{"x":{"field":"mid","type":"quantitative","scale":{"domain":[-8.5,150],"nice":false,"zero":false},"axis":null},"y":{"datum":-111,"type":"quantitative","scale":{"domain":[-161,94],"nice":false,"zero":false},"axis":null},"text":{"field":"rate"}}},
{"data":{"name":"traces"},"transform":[{"filter":"datum.p==='B-After'"}],"mark":{"type":"rule","strokeWidth":5,"color":"#000000"},"encoding":{"x":{"field":"t0","type":"quantitative","scale":{"domain":[-8.5,150],"nice":false,"zero":false},"axis":null},"x2":{"field":"t1"},"y":{"field":"base","type":"quantitative","scale":{"domain":[-161,94],"nice":false,"zero":false},"axis":null}}},
{"data":{"name":"spikes"},"transform":[{"filter":"datum.p==='B-After'"}],"mark":{"type":"rule","strokeWidth":1,"color":"#000000","opacity":0.65},"encoding":{"x":{"field":"t","type":"quantitative","scale":{"domain":[-8.5,150],"nice":false,"zero":false},"axis":null},"y":{"field":"hi","type":"quantitative","scale":{"domain":[-161,94],"nice":false,"zero":false},"axis":null},"y2":{"field":"lo"}}},
{"data":{"name":"marks"},"transform":[{"filter":"datum.p==='B-After'"}],"mark":{"type":"text","fontSize":19,"fontWeight":"bold"},"encoding":{"x":{"field":"t","type":"quantitative","scale":{"domain":[-8.5,150],"nice":false,"zero":false},"axis":null},"y":{"field":"y","type":"quantitative","scale":{"domain":[-161,94],"nice":false,"zero":false},"axis":null},"text":{"field":"sym"}}}
]}
],"spacing":138,"bounds":"flush"},
{"hconcat":[
{"width":725,"height":310,"layer":[
{"data":{"name":"stim"},"mark":{"type":"bar","stroke":"#555555","strokeWidth":1},"encoding":{"x":{"field":"t0","type":"quantitative","scale":{"domain":[-93,150],"nice":false,"zero":false},"axis":null},"x2":{"field":"t1"},"y":{"datum":-77,"type":"quantitative","scale":{"domain":[-160,150],"nice":false,"zero":false},"axis":null},"y2":{"datum":-91},"fill":{"field":"phase","type":"nominal","scale":{"domain":["lead","pre","cap","post"],"range":["#ffffff","#ffffff","#000000","#e6e6e6"]},"legend":null}}},
{"data":{"name":"rates"},"transform":[{"filter":"datum.p==='C-Before'"}],"mark":{"type":"text","fontSize":19,"dy":1},"encoding":{"x":{"field":"mid","type":"quantitative","scale":{"domain":[-93,150],"nice":false,"zero":false},"axis":null},"y":{"datum":-108,"type":"quantitative","scale":{"domain":[-160,150],"nice":false,"zero":false},"axis":null},"text":{"field":"rate"}}},
{"data":{"name":"traces"},"transform":[{"filter":"datum.p==='C-Before'"}],"mark":{"type":"rule","strokeWidth":5,"color":"#000000"},"encoding":{"x":{"field":"t0","type":"quantitative","scale":{"domain":[-93,150],"nice":false,"zero":false},"axis":null},"x2":{"field":"t1"},"y":{"field":"base","type":"quantitative","scale":{"domain":[-160,150],"nice":false,"zero":false},"axis":null}}},
{"data":{"name":"spikes"},"transform":[{"filter":"datum.p==='C-Before'"}],"mark":{"type":"rule","strokeWidth":1,"color":"#000000","opacity":0.6},"encoding":{"x":{"field":"t","type":"quantitative","scale":{"domain":[-93,150],"nice":false,"zero":false},"axis":null},"y":{"field":"hi","type":"quantitative","scale":{"domain":[-160,150],"nice":false,"zero":false},"axis":null},"y2":{"field":"lo"}}},
{"data":{"name":"marks"},"transform":[{"filter":"datum.p==='C-Before'"}],"mark":{"type":"text","fontSize":26,"fontWeight":"bold","dy":7},"encoding":{"x":{"field":"t","type":"quantitative","scale":{"domain":[-93,150],"nice":false,"zero":false},"axis":null},"y":{"field":"y","type":"quantitative","scale":{"domain":[-160,150],"nice":false,"zero":false},"axis":null},"text":{"field":"sym"}}},
{"data":{"name":"labels"},"transform":[{"filter":"datum.p==='C-Before'"}],"mark":{"type":"text","fontSize":34,"fontWeight":"bold","dy":2},"encoding":{"x":{"field":"t","type":"quantitative","scale":{"domain":[-93,150],"nice":false,"zero":false},"axis":null},"y":{"field":"y","type":"quantitative","scale":{"domain":[-160,150],"nice":false,"zero":false},"axis":null},"text":{"field":"label"}}}
]},
{"width":473,"height":310,"layer":[
{"data":{"name":"stim"},"mark":{"type":"bar","stroke":"#555555","strokeWidth":1},"encoding":{"x":{"field":"t0","type":"quantitative","scale":{"domain":[-8.5,150],"nice":false,"zero":false},"axis":null},"x2":{"field":"t1"},"y":{"datum":-77,"type":"quantitative","scale":{"domain":[-160,150],"nice":false,"zero":false},"axis":null},"y2":{"datum":-91},"fill":{"field":"phase","type":"nominal","scale":{"domain":["lead","pre","cap","post"],"range":["#ffffff","#ffffff","#000000","#e6e6e6"]},"legend":null}}},
{"data":{"name":"rates"},"transform":[{"filter":"datum.p==='C-After'"}],"mark":{"type":"text","fontSize":19,"dy":1},"encoding":{"x":{"field":"mid","type":"quantitative","scale":{"domain":[-8.5,150],"nice":false,"zero":false},"axis":null},"y":{"datum":-108,"type":"quantitative","scale":{"domain":[-160,150],"nice":false,"zero":false},"axis":null},"text":{"field":"rate"}}},
{"data":{"name":"traces"},"transform":[{"filter":"datum.p==='C-After'"}],"mark":{"type":"rule","strokeWidth":5,"color":"#000000"},"encoding":{"x":{"field":"t0","type":"quantitative","scale":{"domain":[-8.5,150],"nice":false,"zero":false},"axis":null},"x2":{"field":"t1"},"y":{"field":"base","type":"quantitative","scale":{"domain":[-160,150],"nice":false,"zero":false},"axis":null}}},
{"data":{"name":"spikes"},"transform":[{"filter":"datum.p==='C-After'"}],"mark":{"type":"rule","strokeWidth":1,"color":"#000000","opacity":0.6},"encoding":{"x":{"field":"t","type":"quantitative","scale":{"domain":[-8.5,150],"nice":false,"zero":false},"axis":null},"y":{"field":"hi","type":"quantitative","scale":{"domain":[-160,150],"nice":false,"zero":false},"axis":null},"y2":{"field":"lo"}}},
{"data":{"name":"marks"},"transform":[{"filter":"datum.p==='C-After'"}],"mark":{"type":"text","fontSize":26,"fontWeight":"bold","dy":7},"encoding":{"x":{"field":"t","type":"quantitative","scale":{"domain":[-8.5,150],"nice":false,"zero":false},"axis":null},"y":{"field":"y","type":"quantitative","scale":{"domain":[-160,150],"nice":false,"zero":false},"axis":null},"text":{"field":"sym"}}}
]}
],"spacing":138,"bounds":"flush"},
{"hconcat":[
{"width":725,"height":200,"layer":[
{"data":{"name":"stim"},"mark":{"type":"bar","stroke":"#555555","strokeWidth":1},"encoding":{"x":{"field":"t0","type":"quantitative","scale":{"domain":[-93,150],"nice":false,"zero":false},"axis":null},"x2":{"field":"t1"},"y":{"datum":-84,"type":"quantitative","scale":{"domain":[-135,65],"nice":false,"zero":false},"axis":null},"y2":{"datum":-98},"fill":{"field":"phase","type":"nominal","scale":{"domain":["lead","pre","cap","post"],"range":["#ffffff","#ffffff","#000000","#e6e6e6"]},"legend":null}}},
{"data":{"name":"rates"},"transform":[{"filter":"datum.p==='D-Before'"}],"mark":{"type":"text","fontSize":19,"dy":1},"encoding":{"x":{"field":"mid","type":"quantitative","scale":{"domain":[-93,150],"nice":false,"zero":false},"axis":null},"y":{"datum":-115,"type":"quantitative","scale":{"domain":[-135,65],"nice":false,"zero":false},"axis":null},"text":{"field":"rate"}}},
{"data":{"name":"traces"},"transform":[{"filter":"datum.p==='D-Before'"}],"mark":{"type":"rule","strokeWidth":5,"color":"#000000"},"encoding":{"x":{"field":"t0","type":"quantitative","scale":{"domain":[-93,150],"nice":false,"zero":false},"axis":null},"x2":{"field":"t1"},"y":{"field":"base","type":"quantitative","scale":{"domain":[-135,65],"nice":false,"zero":false},"axis":null}}},
{"data":{"name":"spikes"},"transform":[{"filter":"datum.p==='D-Before'"}],"mark":{"type":"rule","strokeWidth":1,"color":"#000000","opacity":0.6},"encoding":{"x":{"field":"t","type":"quantitative","scale":{"domain":[-93,150],"nice":false,"zero":false},"axis":null},"y":{"field":"hi","type":"quantitative","scale":{"domain":[-135,65],"nice":false,"zero":false},"axis":null},"y2":{"field":"lo"}}},
{"data":{"name":"marks"},"transform":[{"filter":"datum.p==='D-Before'"}],"mark":{"type":"text","fontSize":26,"fontWeight":"bold","dy":7},"encoding":{"x":{"field":"t","type":"quantitative","scale":{"domain":[-93,150],"nice":false,"zero":false},"axis":null},"y":{"field":"y","type":"quantitative","scale":{"domain":[-135,65],"nice":false,"zero":false},"axis":null},"text":{"field":"sym"}}},
{"data":{"name":"labels"},"transform":[{"filter":"datum.p==='D-Before'"}],"mark":{"type":"text","fontSize":34,"fontWeight":"bold","dy":2},"encoding":{"x":{"field":"t","type":"quantitative","scale":{"domain":[-93,150],"nice":false,"zero":false},"axis":null},"y":{"field":"y","type":"quantitative","scale":{"domain":[-135,65],"nice":false,"zero":false},"axis":null},"text":{"field":"label"}}}
]},
{"width":473,"height":200,"layer":[
{"data":{"name":"stim"},"mark":{"type":"bar","stroke":"#555555","strokeWidth":1},"encoding":{"x":{"field":"t0","type":"quantitative","scale":{"domain":[-8.5,150],"nice":false,"zero":false},"axis":null},"x2":{"field":"t1"},"y":{"datum":-84,"type":"quantitative","scale":{"domain":[-135,65],"nice":false,"zero":false},"axis":null},"y2":{"datum":-98},"fill":{"field":"phase","type":"nominal","scale":{"domain":["lead","pre","cap","post"],"range":["#ffffff","#ffffff","#000000","#e6e6e6"]},"legend":null}}},
{"data":{"name":"rates"},"transform":[{"filter":"datum.p==='D-After'"}],"mark":{"type":"text","fontSize":19,"dy":1},"encoding":{"x":{"field":"mid","type":"quantitative","scale":{"domain":[-8.5,150],"nice":false,"zero":false},"axis":null},"y":{"datum":-115,"type":"quantitative","scale":{"domain":[-135,65],"nice":false,"zero":false},"axis":null},"text":{"field":"rate"}}},
{"data":{"name":"traces"},"transform":[{"filter":"datum.p==='D-After'"}],"mark":{"type":"rule","strokeWidth":5,"color":"#000000"},"encoding":{"x":{"field":"t0","type":"quantitative","scale":{"domain":[-8.5,150],"nice":false,"zero":false},"axis":null},"x2":{"field":"t1"},"y":{"field":"base","type":"quantitative","scale":{"domain":[-135,65],"nice":false,"zero":false},"axis":null}}},
{"data":{"name":"spikes"},"transform":[{"filter":"datum.p==='D-After'"}],"mark":{"type":"rule","strokeWidth":1,"color":"#000000","opacity":0.75},"encoding":{"x":{"field":"t","type":"quantitative","scale":{"domain":[-8.5,150],"nice":false,"zero":false},"axis":null},"y":{"field":"hi","type":"quantitative","scale":{"domain":[-135,65],"nice":false,"zero":false},"axis":null},"y2":{"field":"lo"}}},
{"data":{"name":"scalebar"},"mark":{"type":"rule","strokeWidth":5,"color":"#000000"},"encoding":{"x":{"field":"t0","type":"quantitative","scale":{"domain":[-8.5,150],"nice":false,"zero":false},"axis":null},"x2":{"field":"t1"},"y":{"datum":-45,"type":"quantitative","scale":{"domain":[-135,65],"nice":false,"zero":false},"axis":null}}},
{"data":{"name":"scalebar"},"mark":{"type":"text","fontSize":15,"fontWeight":"bold","dy":1},"encoding":{"x":{"field":"mid","type":"quantitative","scale":{"domain":[-8.5,150],"nice":false,"zero":false},"axis":null},"y":{"datum":-32,"type":"quantitative","scale":{"domain":[-135,65],"nice":false,"zero":false},"axis":null},"text":{"field":"label"}}}
]}
],"spacing":138,"bounds":"flush"},
{"width":1350,"height":110,"layer":[
{"data":{"name":"legendStim"},"mark":{"type":"bar","stroke":"#000000","strokeWidth":2},"encoding":{"x":{"field":"t0","type":"quantitative","scale":{"domain":[-188.7,248.2],"nice":false,"zero":false},"axis":null},"x2":{"field":"t1"},"y":{"datum":51,"type":"quantitative","scale":{"domain":[0,110],"nice":false,"zero":false},"axis":null},"y2":{"datum":-10},"fill":{"field":"phase","type":"nominal","scale":{"domain":["lead","pre","cap","post"],"range":["#ffffff","#ffffff","#000000","#e6e6e6"]},"legend":null}}},
{"data":{"name":"legendText"},"transform":[{"filter":"datum.phase!=='post'"}],"mark":{"type":"text","fontSize":17,"lineBreak":"\n","lineHeight":20},"encoding":{"x":{"field":"mid","type":"quantitative","scale":{"domain":[-188.7,248.2],"nice":false,"zero":false},"axis":null},"y":{"datum":33,"type":"quantitative","scale":{"domain":[0,110],"nice":false,"zero":false},"axis":null},"text":{"field":"label"},"color":{"field":"phase","type":"nominal","scale":{"domain":["pre","cap","post"],"range":["#000000","#ffffff","#000000"]},"legend":null}}},
{"data":{"name":"legendText"},"transform":[{"filter":"datum.phase==='post'"}],"mark":{"type":"text","fontSize":17},"encoding":{"x":{"field":"mid","type":"quantitative","scale":{"domain":[-188.7,248.2],"nice":false,"zero":false},"axis":null},"y":{"datum":23,"type":"quantitative","scale":{"domain":[0,110],"nice":false,"zero":false},"axis":null},"text":{"field":"label"},"color":{"field":"phase","type":"nominal","scale":{"domain":["pre","cap","post"],"range":["#000000","#ffffff","#000000"]},"legend":null}}}
]}
]
}
